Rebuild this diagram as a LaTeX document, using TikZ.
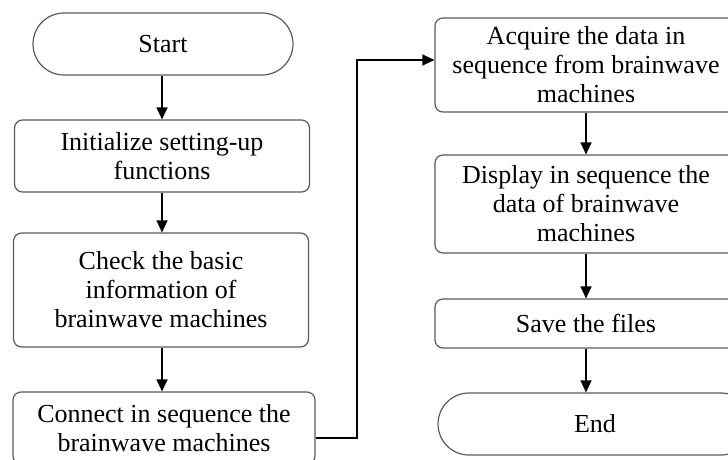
\documentclass[tikz,border=0pt]{standalone}
\usepackage{fontspec}
\setmainfont{Liberation Serif}
\usetikzlibrary{arrows.meta}
\definecolor{boxline}{HTML}{5A5A5A}
\tikzset{
  x=1pt, y=1pt,
  proc/.style={draw=boxline, line width=1.2pt, rounded corners=8pt, align=center,
    inner sep=0pt, font=\fontsize{26}{29}\selectfont},
  term/.style={draw=boxline, line width=1.2pt, rounded corners=31pt, align=center,
    inner sep=0pt, font=\fontsize{26}{29}\selectfont},
  arr/.style={line width=1.2pt, -{Triangle[length=12pt,width=11pt]}},
}
\begin{document}
\begin{tikzpicture}
\useasboundingbox (0,0) rectangle (728,-459);
\clip (0,0) rectangle (728,-459);
\node[term, minimum width=260pt, minimum height=62pt] (start) at (163,-44) {Start};
\node[proc, minimum width=295pt, minimum height=72pt] (init) at (162,-156) {Initialize setting-up\\functions};
\node[proc, minimum width=295pt, minimum height=114pt] (check) at (161,-290) {Check the basic\\information of\\brainwave machines};
\node[proc, minimum width=302pt, minimum height=72pt] (connect) at (164,-428) {Connect in sequence the\\brainwave machines};
\node[proc, minimum width=302pt, minimum height=94pt] (acquire) at (586,-65) {Acquire the data in\\sequence from brainwave\\machines};
\node[proc, minimum width=302pt, minimum height=98pt] (display) at (586,-204) {Display in sequence the\\data of brainwave\\machines};
\node[proc, minimum width=302pt, minimum height=49pt] (save) at (586,-323.5) {Save the files};
\node[term, minimum width=314pt, minimum height=62pt] (end) at (595,-424) {End};
\coordinate (turn) at (357,-438);
\draw[arr] (start.south -| 162,0) -- (init.north -| 162,0);
\draw[arr] (init.south -| 162,0) -- (check.north -| 162,0);
\draw[arr] (check.south -| 162,0) -- (connect.north -| 162,0);
\draw[arr] (acquire.south) -- (display.north);
\draw[arr] (display.south) -- (save.north);
\draw[arr] (save.south) -- (save.south |- end.north);
\draw[arr] (connect.east |- turn) -- (turn) |- ([yshift=5pt]acquire.west);
\end{tikzpicture}
\end{document}
